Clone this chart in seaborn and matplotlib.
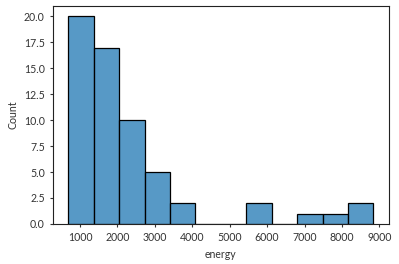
import numpy as np
import pandas as pd
import matplotlib
matplotlib.use("Agg")
import matplotlib.pyplot as plt
import seaborn as sns

# Data (bin centers and counts)
energy_bin_centers = [1027, 1706, 2386, 3065, 3745, 4424, 5104, 5783, 6463, 7142, 7822, 8501]
energy_counts = [20, 17, 10, 5, 2, 0, 0, 2, 0, 1, 1, 2]
bin_range = (687, 8840)
n_bins = 12

plt.rcParams['font.family'] = ['Lato', 'DejaVu Sans']

df = pd.DataFrame({"energy": energy_bin_centers, "count": energy_counts})

fig = plt.figure(figsize=(3.99, 2.64), dpi=100)
ax = fig.add_axes([0.133, 0.152, 0.841, 0.825])
sns.histplot(data=df, x="energy", weights="count", bins=n_bins, binrange=bin_range,
             color="#1f77b4", alpha=0.75, edgecolor="black", linewidth=0.9, ax=ax)
ax.set_xticks([1000, 2000, 3000, 4000, 5000, 6000, 7000, 8000, 9000])
ax.set_yticks([0, 2.5, 5, 7.5, 10, 12.5, 15, 17.5, 20])
ax.set_yticklabels(["0.0", "2.5", "5.0", "7.5", "10.0", "12.5", "15.0", "17.5", "20.0"])
ax.tick_params(labelsize=7.6, length=2.5, width=0.8, colors="#333333", labelcolor="#333333")
ax.set_xlabel("energy", fontsize=7.6, color="#333333")
ax.set_ylabel("Count", fontsize=7.6, color="#333333")
for s in ax.spines.values():
    s.set_linewidth(0.8)
    s.set_color("#222222")
fig.savefig("out.png", dpi=100)
